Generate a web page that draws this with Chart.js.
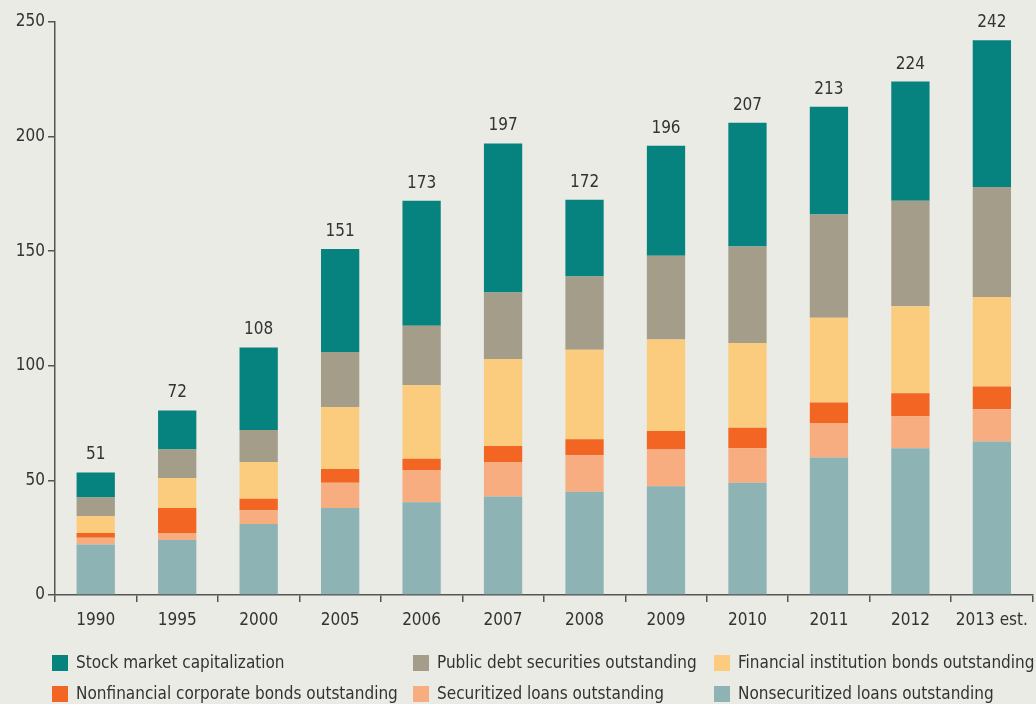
<!DOCTYPE html>
<html lang="en">
<head>
  <meta charset="UTF-8" />
  <title>Financial depth</title>
  <script src="https://cdn.jsdelivr.net/npm/chart.js"></script>
  <style>
    html, body { margin: 0; padding: 0; background: #EAEBE5; }
    #wrap { width: 1036px; height: 704px; }
  </style>
</head>
<body>
  <div id="wrap"><canvas id="chart" width="1036" height="704"></canvas></div>

  <script>
    const years = ["1990", "1995", "2000", "2005", "2006", "2007", "2008", "2009", "2010", "2011", "2012", "2013 est."];
    const totals = [51, 72, 108, 151, 173, 197, 172, 196, 207, 213, 224, 242];

    const nonsecuritizedLoans = [22, 24, 31, 38, 40.5, 43, 45, 47.5, 49, 60, 64, 67];
    const securitizedLoans    = [3, 3, 6, 11, 14, 15, 16, 16, 15, 15, 14, 14];
    const nonfinancialBonds   = [2, 11, 5, 6, 5, 7, 7, 8, 9, 9, 10, 10];
    const financialBonds      = [7.5, 13, 16, 27, 32, 38, 39, 40, 37, 37, 38, 39];
    const publicDebt          = [8, 12.5, 14, 24, 26, 29, 32, 36.5, 42, 45, 46, 48];
    const stockMarket         = [11, 17, 36, 45, 54.5, 65, 33.5, 48, 54, 47, 52, 64];

    const FONT = "'Liberation Sans Narrow', 'DejaVu Sans Condensed', 'Roboto', sans-serif";
    const TEXT = "#333333";
    const AXIS = "#555555";

    const series = [
      { label: "Nonsecuritized loans outstanding", data: nonsecuritizedLoans, color: "#8EB3B4" },
      { label: "Securitized loans outstanding", data: securitizedLoans, color: "#F8AD80" },
      { label: "Nonfinancial corporate bonds outstanding", data: nonfinancialBonds, color: "#F26522" },
      { label: "Financial institution bonds outstanding", data: financialBonds, color: "#FBCC7E" },
      { label: "Public debt securities outstanding", data: publicDebt, color: "#A39D89" },
      { label: "Stock market capitalization", data: stockMarket, color: "#07837F" }
    ];

    // legend order as in the picture (rows of three)
    const legendOrder = [5, 4, 3, 2, 1, 0];
    const legendCols = [52, 413, 714];
    const legendRows = [663, 694];

    const totalsAndLegend = {
      id: "totalsAndLegend",
      afterDatasetsDraw(chart) {
        const { ctx, scales } = chart;
        ctx.save();
        ctx.font = "17px " + FONT;
        ctx.fillStyle = TEXT;
        ctx.textAlign = "center";
        ctx.textBaseline = "bottom";
        years.forEach((y, i) => {
          const top = series.reduce((s, d) => s + d.data[i], 0);
          ctx.fillText(String(totals[i]), scales.x.getPixelForValue(i), scales.y.getPixelForValue(top) - 9);
        });

        ctx.textAlign = "left";
        ctx.textBaseline = "middle";
        legendOrder.forEach((si, k) => {
          const col = k % 3, row = Math.floor(k / 3);
          const x = legendCols[col], y = legendRows[row];
          ctx.fillStyle = series[si].color;
          ctx.fillRect(x, y - 8, 16, 16);
          ctx.fillStyle = TEXT;
          ctx.fillText(series[si].label, x + 24, y + 1);
        });
        ctx.restore();
      }
    };

    new Chart(document.getElementById("chart"), {
      type: "bar",
      data: {
        labels: years,
        datasets: series.map(s => ({
          label: s.label,
          data: s.data,
          backgroundColor: s.color,
          borderWidth: 0,
          barPercentage: 0.47,
          categoryPercentage: 1
        }))
      },
      options: {
        responsive: false,
        animation: false,
        layout: { padding: { top: 22, right: 3, bottom: 64, left: 0 } },
        plugins: {
          legend: { display: false },
          tooltip: { enabled: false }
        },
        scales: {
          x: {
            stacked: true,
            afterFit(scale) { scale.height = 45; },
            grid: {
              drawOnChartArea: false,
              drawTicks: true,
              tickLength: 7,
              color: AXIS,
              lineWidth: 1.5
            },
            border: { color: AXIS, width: 1.5 },
            ticks: {
              color: TEXT,
              font: { family: FONT, size: 17 },
              padding: 8,
              maxRotation: 0,
              autoSkip: false
            }
          },
          y: {
            stacked: true,
            min: 0,
            max: 250,
            afterFit(scale) { scale.width = 55; },
            grid: {
              drawOnChartArea: false,
              drawTicks: true,
              tickLength: 7,
              color: AXIS,
              lineWidth: 1.5
            },
            border: { color: AXIS, width: 1.5 },
            ticks: {
              stepSize: 50,
              color: TEXT,
              font: { family: FONT, size: 17 },
              padding: 3
            }
          }
        }
      },
      plugins: [totalsAndLegend]
    });
  </script>
</body>
</html>
